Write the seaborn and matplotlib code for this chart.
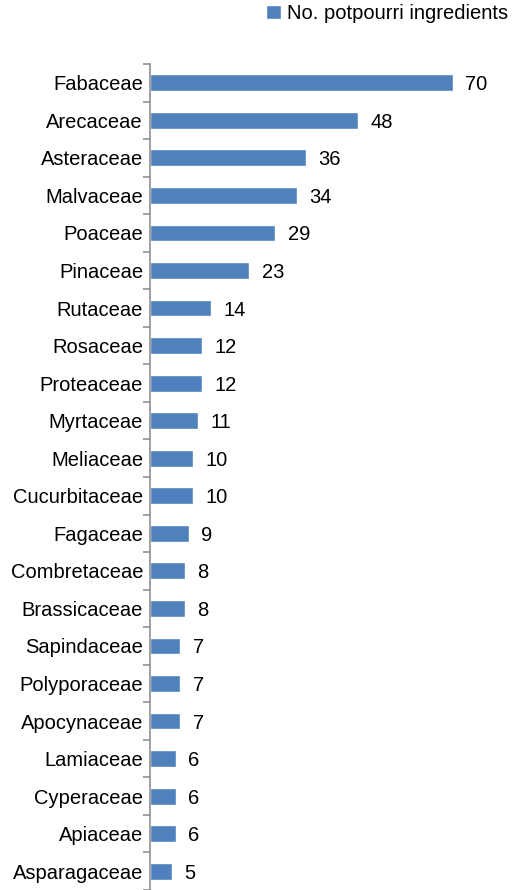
import matplotlib
matplotlib.use("Agg")
import matplotlib.pyplot as plt
import seaborn as sns
import pandas as pd
import numpy as np
from matplotlib.patches import Patch

families = ["Fabaceae", "Arecaceae", "Asteraceae", "Malvaceae", "Poaceae", "Pinaceae",
            "Rutaceae", "Rosaceae", "Proteaceae", "Myrtaceae", "Meliaceae", "Cucurbitaceae",
            "Fagaceae", "Combretaceae", "Brassicaceae", "Sapindaceae", "Polyporaceae",
            "Apocynaceae", "Lamiaceae", "Cyperaceae", "Apiaceae", "Asparagaceae"]
counts = [70, 48, 36, 34, 29, 23, 14, 12, 12, 11, 10, 10, 9, 8, 8, 7, 7, 7, 6, 6, 6, 5]
series_name = "No. potpourri ingredients"

df = pd.DataFrame({"family": families, "count": counts, "series": series_name})

sns.set_theme(style="white")
plt.rcParams['font.family'] = ['Liberation Sans', 'DejaVu Sans']
plt.rcParams['text.color'] = 'black'
plt.rcParams['ytick.labelcolor'] = 'black'

FS = 14.5
fig = plt.figure(figsize=(5.12, 8.9), dpi=100)
ax = fig.add_axes([150/512, 0.0, 346/512, (890-64)/890])

color = "#4F81BD"
sns.barplot(data=df, y="family", x="count", hue="series", palette=[color],
            orient="h", width=0.45, ax=ax, legend=False, saturation=1)

for c in ax.containers:
    labels = ax.bar_label(c, padding=9, fontsize=FS, color="black")
    for t in labels:
        t.set_va("center_baseline")

ax.set_xlim(0, 80)
ax.set_ylim(len(families) - 0.5, -0.5)
ax.set_xlabel("")
ax.set_ylabel("")
ax.set_xticks([])
for s in ["top", "right", "bottom"]:
    ax.spines[s].set_visible(False)
ax.spines["left"].set_color("#909090")
ax.spines["left"].set_linewidth(1.2)

ax.set_yticks(np.arange(len(families)))
ax.set_yticklabels(families, fontsize=FS, color="black")
ax.tick_params(axis="y", which="major", length=0, pad=5)
ax.set_yticks(np.arange(len(families) + 1) - 0.5, minor=True)
ax.tick_params(axis="y", which="minor", length=5, width=1.2, color="#909090", direction="out", left=True)

fig.legend(handles=[Patch(facecolor=color, label=series_name)], loc="upper right",
           bbox_to_anchor=(1.0, 1.0), frameon=False, fontsize=FS, labelcolor="black",
           handlelength=0.75, handleheight=0.75, handletextpad=0.3, borderaxespad=0.0,
           borderpad=0.2)

fig.savefig("out.png", dpi=100)
